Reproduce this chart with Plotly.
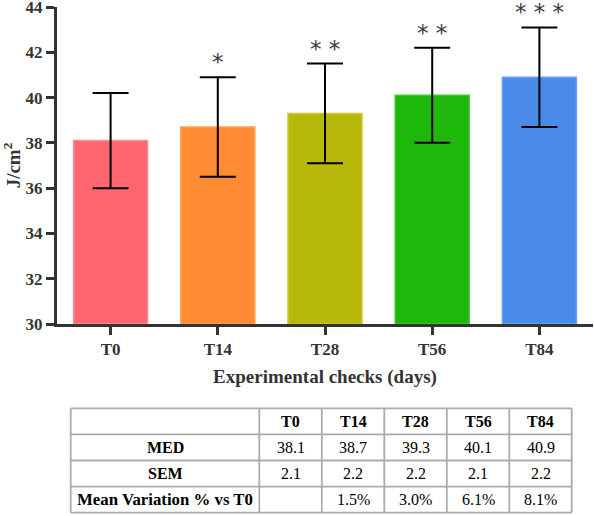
import plotly.graph_objects as go

# ---- data ----
checks = ["T0", "T14", "T28", "T56", "T84"]
med = [38.1, 38.7, 39.3, 40.1, 40.9]
sem = [2.1, 2.2, 2.2, 2.1, 2.2]
variation = [None, 1.5, 3.0, 6.1, 8.1]
significance = ["", "*", "* *", "* *", "* * *"]
row_labels = ["MED", "SEM", "Mean Variation % vs T0"]

colors = ["#FF6670", "#FF8C32", "#B8B80A", "#1DB80A", "#4A8BEA"]
edge_colors = ["#FF8C94", "#FFA050", "#C8C830", "#40C830", "#64A0F8"]

SERIF = "Liberation Serif"
W, H = 594, 516
T, B, L, R = 7, 192, 57, 1
PW, PH = W - L - R, H - T - B


def px_x(px):
    return (px - L) / PW


def px_y(py):
    return (H - B - py) / PH


fig = go.Figure()
fig.add_trace(go.Bar(
    x=checks, y=[m - 30 for m in med], base=30,
    width=0.69,
    marker=dict(color=colors, line=dict(color=edge_colors, width=1.5)),
    error_y=dict(type="data", array=sem, visible=True, color="black",
                 thickness=2, width=18),
    showlegend=False, hoverinfo="skip",
))

# significance stars
for c, m, s, sig in zip(checks, med, sem, significance):
    if sig:
        fig.add_annotation(x=c, y=m + s, text=sig, showarrow=False,
                           xref="x", yref="y", yanchor="middle", yshift=15,
                           font=dict(family="DejaVu Sans", size=23, color="#3A3A3A"))

# ---- table (drawn with shapes + text) ----
col_edges = [70.7, 259.3, 321.8, 384.3, 446.8, 509.3, 571.7]
row_edges = [408.3, 434.3, 460.5, 486.6, 512.7]
LINE = dict(color="#ABABAB", width=1.8)
for xe in col_edges:
    fig.add_shape(type="line", xref="paper", yref="paper",
                  x0=px_x(xe), x1=px_x(xe), y0=px_y(row_edges[0]), y1=px_y(row_edges[-1]),
                  line=LINE)
for ye in row_edges:
    fig.add_shape(type="line", xref="paper", yref="paper",
                  x0=px_x(col_edges[0]), x1=px_x(col_edges[-1]), y0=px_y(ye), y1=px_y(ye),
                  line=LINE)


def fmt_pct(v):
    return "" if v is None else f"{v:.1f}%"


table_rows = [
    [""] + [f"<b>{c}</b>" for c in checks],
    [f"<b>{row_labels[0]}</b>"] + [f"{m:.1f}" for m in med],
    [f"<b>{row_labels[1]}</b>"] + [f"{s:.1f}" for s in sem],
    [f"<b>{row_labels[2]}</b>"] + [fmt_pct(v) for v in variation],
]
for ri, row in enumerate(table_rows):
    yc = (row_edges[ri] + row_edges[ri + 1]) / 2
    for ci, txt in enumerate(row):
        if not txt:
            continue
        xc = (col_edges[ci] + col_edges[ci + 1]) / 2
        size = 16.8 if (ci == 0 and ri == 3) else 16
        fig.add_annotation(x=px_x(xc), y=px_y(yc), xref="paper", yref="paper",
                           text=txt, showarrow=False, xanchor="center", yanchor="middle",
                           font=dict(family=SERIF, size=size, color="black"))

fig.update_layout(
    width=W, height=H,
    template="none",
    margin=dict(l=L, r=R, t=T, b=B, pad=0),
    paper_bgcolor="white", plot_bgcolor="white",
    xaxis=dict(
        range=[-0.5, 4.5], showline=True, linecolor="#333333", linewidth=3,
        ticks="outside", ticklen=8, tickwidth=2.5, tickcolor="#333333",
        tickfont=dict(family=SERIF, size=17, color="#333333", weight="bold"),
        title=dict(text="<b>Experimental checks (days)</b>", standoff=12,
                   font=dict(family=SERIF, size=19, color="#333333")),
        showgrid=False, zeroline=False, fixedrange=True, automargin=False,
    ),
    yaxis=dict(
        range=[30, 44], tickvals=[30, 32, 34, 36, 38, 40, 42, 44],
        ticklabeloverflow="allow",
        showline=True, linecolor="#333333", linewidth=3,
        ticks="outside", ticklen=8, tickwidth=2.5, tickcolor="#333333",
        tickfont=dict(family=SERIF, size=17, color="#333333", weight="bold"),
        title=dict(text="<b>J/cm<sup>2</sup></b>", standoff=3,
                   font=dict(family=SERIF, size=19, color="#333333")),
        showgrid=False, zeroline=False, fixedrange=True, automargin=False,
    ),
)

fig.write_html("out.html", config={"displayModeBar": False},
               post_script="document.body.style.margin='0';")
